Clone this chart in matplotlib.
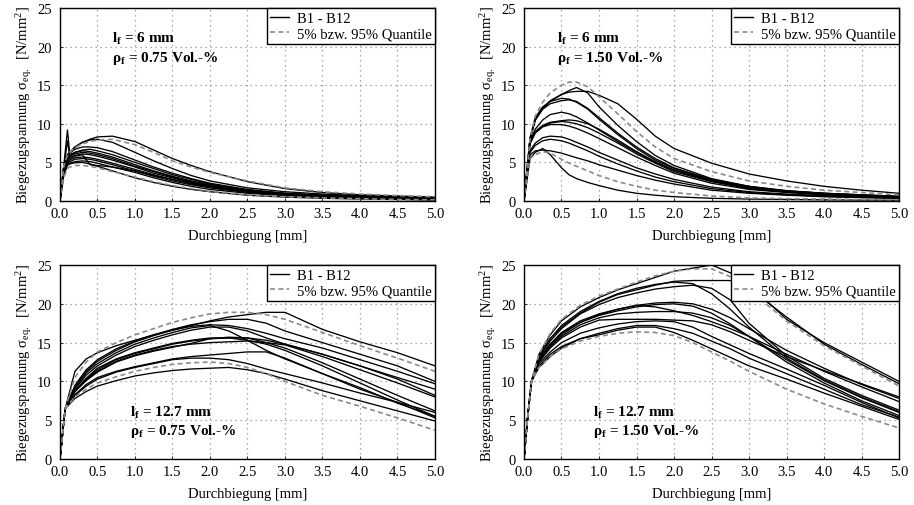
import matplotlib
matplotlib.use("Agg")
import matplotlib.pyplot as plt
from matplotlib.lines import Line2D

plt.rcParams['font.family'] = ['Liberation Serif', 'DejaVu Serif']
plt.rcParams['mathtext.fontset'] = 'custom'
plt.rcParams['mathtext.rm'] = 'Liberation Serif'
plt.rcParams['mathtext.it'] = 'Liberation Serif:italic'
plt.rcParams['mathtext.bf'] = 'Liberation Serif:bold'

# ---------------- Panel 1: lf = 6 mm, 0.75 Vol.-% ----------------
P1_X = [0, 0.05, 0.1, 0.13, 0.2, 0.3, 0.4, 0.5, 0.7, 1.0, 1.25, 1.5, 1.75, 2.0, 2.5, 3.0, 3.5, 4.0, 4.5, 5.0]
P1_B = [
    [0, 4.5, 6.0, 6.3, 7.0, 7.6, 8.0, 8.3, 8.4, 7.7, 6.6, 5.5, 4.6, 3.8, 2.5, 1.6, 1.1, 0.8, 0.65, 0.5],
    [0, 4.5, 9.2, 6.2, 7.0, 7.6, 7.9, 8.0, 7.6, 6.3, 5.2, 4.2, 3.3, 2.6, 1.7, 1.2, 0.9, 0.7, 0.55, 0.45],
    [0, 4.5, 6.0, 6.2, 6.7, 7.0, 7.0, 6.9, 6.4, 5.3, 4.4, 3.6, 2.9, 2.3, 1.5, 1.0, 0.75, 0.6, 0.45, 0.35],
    [0, 4.2, 7.8, 5.8, 6.3, 6.6, 6.7, 6.5, 6.0, 5.0, 4.2, 3.4, 2.8, 2.2, 1.4, 1.0, 0.75, 0.55, 0.45, 0.35],
    [0, 4.0, 5.6, 6.0, 6.3, 6.5, 6.4, 6.2, 5.7, 4.7, 3.9, 3.2, 2.6, 2.1, 1.35, 0.95, 0.7, 0.55, 0.4, 0.3],
    [0, 4.0, 5.5, 5.8, 6.1, 6.3, 6.2, 6.0, 5.5, 4.5, 3.8, 3.1, 2.5, 2.0, 1.3, 0.9, 0.7, 0.5, 0.4, 0.3],
    [0, 3.8, 5.3, 5.6, 5.9, 6.1, 6.0, 5.8, 5.3, 4.4, 3.6, 3.0, 2.4, 1.9, 1.25, 0.85, 0.65, 0.5, 0.4, 0.3],
    [0, 3.8, 5.2, 5.5, 5.8, 6.0, 4.7, 4.6, 4.4, 3.9, 3.3, 2.8, 2.3, 1.9, 1.2, 0.85, 0.65, 0.5, 0.4, 0.3],
    [0, 3.6, 5.0, 5.3, 5.6, 5.7, 5.6, 5.4, 4.9, 4.1, 3.4, 2.8, 2.2, 1.8, 1.15, 0.8, 0.6, 0.45, 0.35, 0.25],
    [0, 3.5, 4.9, 5.1, 5.4, 5.5, 5.4, 5.2, 4.7, 3.9, 3.2, 2.6, 2.1, 1.7, 1.1, 0.75, 0.55, 0.4, 0.3, 0.2],
    [0, 3.4, 4.7, 4.9, 5.1, 5.2, 5.1, 4.9, 4.4, 3.7, 3.0, 2.4, 1.9, 1.5, 1.0, 0.7, 0.5, 0.35, 0.3, 0.2],
    [0, 3.3, 4.6, 4.8, 4.95, 5.0, 4.8, 4.5, 3.9, 3.0, 2.4, 1.9, 1.5, 1.2, 0.75, 0.5, 0.35, 0.25, 0.2, 0.1],
]
P1_Q95 = [0, 4.5, 6.0, 6.3, 6.9, 7.4, 7.7, 7.9, 8.0, 7.3, 6.3, 5.2, 4.4, 3.7, 2.6, 1.7, 1.2, 0.9, 0.7, 0.55]
P1_Q05 = [0, 3.0, 4.2, 4.4, 4.6, 4.6, 4.5, 4.3, 3.8, 3.1, 2.5, 2.0, 1.6, 1.25, 0.8, 0.55, 0.4, 0.3, 0.2, 0.15]

# ---------------- Panel 2: lf = 6 mm, 1.50 Vol.-% ----------------
P2_X = [0, 0.08, 0.15, 0.25, 0.35, 0.5, 0.6, 0.7, 0.85, 1.0, 1.25, 1.5, 1.75, 2.0, 2.5, 3.0, 3.5, 4.0, 4.5, 5.0]
P2_B = [
    [0, 8.0, 10.5, 12.0, 13.0, 13.8, 14.1, 14.2, 14.2, 13.7, 12.6, 10.6, 8.4, 6.8, 4.9, 3.5, 2.6, 1.9, 1.4, 1.0],
    [0, 8.0, 10.5, 12.0, 12.9, 13.8, 14.3, 14.7, 14.0, 12.2, 9.8, 7.7, 5.9, 4.6, 2.9, 1.9, 1.3, 1.0, 0.8, 0.6],
    [0, 8.2, 10.8, 12.2, 12.9, 13.3, 13.2, 12.8, 11.9, 10.6, 8.6, 6.8, 5.3, 4.2, 2.7, 1.8, 1.3, 1.0, 0.75, 0.6],
    [0, 8.0, 10.5, 11.9, 12.6, 13.0, 13.1, 12.9, 12.0, 10.8, 8.8, 7.0, 5.5, 4.3, 2.8, 1.9, 1.35, 1.0, 0.8, 0.6],
    [0, 7.8, 9.3, 10.5, 11.2, 11.5, 11.3, 10.9, 10.1, 9.2, 7.7, 6.3, 5.0, 4.0, 2.6, 1.7, 1.2, 0.9, 0.7, 0.55],
    [0, 7.5, 9.0, 9.8, 10.2, 10.4, 10.5, 10.4, 10.0, 9.3, 7.9, 6.4, 5.1, 4.0, 2.6, 1.7, 1.2, 0.9, 0.7, 0.55],
    [0, 7.5, 8.9, 9.7, 10.1, 10.3, 10.2, 10.0, 9.5, 8.8, 7.5, 6.1, 4.9, 3.8, 2.5, 1.6, 1.15, 0.85, 0.65, 0.5],
    [0, 7.4, 8.8, 9.6, 9.9, 9.9, 9.7, 9.4, 8.8, 8.1, 6.9, 5.7, 4.6, 3.6, 2.3, 1.5, 1.1, 0.8, 0.6, 0.45],
    [0, 6.5, 7.5, 8.2, 8.4, 8.3, 8.0, 7.6, 7.0, 6.3, 5.3, 4.3, 3.5, 2.8, 1.8, 1.2, 0.9, 0.7, 0.5, 0.4],
    [0, 6.3, 7.2, 7.8, 8.0, 7.8, 7.5, 7.1, 6.5, 5.8, 4.8, 3.9, 3.1, 2.5, 1.6, 1.1, 0.8, 0.6, 0.45, 0.35],
    [0, 6.0, 6.5, 6.6, 6.5, 6.2, 5.9, 5.6, 5.2, 4.7, 4.0, 3.3, 2.7, 2.2, 1.4, 1.0, 0.75, 0.55, 0.45, 0.35],
    [0, 5.5, 6.3, 6.8, 6.0, 4.3, 3.4, 2.9, 2.4, 2.0, 1.4, 1.0, 0.75, 0.55, 0.35, 0.25, 0.2, 0.15, 0.12, 0.1],
]
P2_Q95 = [0, 8.0, 11.0, 12.8, 14.0, 15.0, 15.4, 15.4, 14.8, 13.5, 11.3, 9.0, 7.0, 5.5, 3.8, 2.6, 1.9, 1.4, 1.1, 0.8]
P2_Q05 = [0, 5.5, 6.0, 6.4, 6.2, 5.4, 4.9, 4.5, 3.9, 3.3, 2.5, 1.9, 1.4, 1.1, 0.65, 0.4, 0.3, 0.25, 0.2, 0.15]

# ---------------- Panel 3: lf = 12.7 mm, 0.75 Vol.-% ----------------
P3_X = [0, 0.07, 0.2, 0.35, 0.5, 0.75, 1.0, 1.25, 1.5, 1.75, 2.0, 2.25, 2.5, 2.75, 3.0, 3.5, 4.0, 4.5, 5.0]
P3_B = [
    [0, 6.5, 11.3, 12.9, 13.7, 14.6, 15.3, 16.0, 16.6, 17.2, 17.8, 18.3, 18.6, 18.9, 18.9, 16.7, 15.1, 13.7, 12.0],
    [0, 6.5, 9.5, 11.5, 12.8, 14.2, 15.2, 16.0, 16.7, 17.3, 17.7, 18.0, 18.0, 17.5, 16.5, 15.0, 13.5, 12.0, 10.0],
    [0, 6.5, 9.3, 11.3, 12.6, 14.0, 15.1, 15.9, 16.6, 17.1, 17.3, 17.2, 16.8, 16.2, 15.5, 14.3, 12.8, 11.3, 9.7],
    [0, 6.5, 9.2, 11.1, 12.3, 13.7, 14.8, 15.6, 16.3, 16.9, 17.2, 16.5, 15.3, 14.0, 12.9, 11.0, 9.2, 7.2, 5.5],
    [0, 6.5, 9.0, 10.8, 12.0, 13.4, 14.5, 15.3, 16.0, 16.6, 17.0, 17.0, 16.5, 15.6, 14.8, 13.5, 12.0, 10.5, 9.0],
    [0, 6.5, 8.8, 10.3, 11.5, 12.8, 13.6, 14.2, 14.8, 15.2, 15.5, 15.6, 15.6, 15.3, 14.8, 13.5, 12.0, 10.3, 8.2],
    [0, 6.5, 8.8, 10.4, 11.7, 12.9, 13.7, 14.3, 14.9, 15.3, 15.6, 15.6, 15.3, 14.8, 14.0, 12.0, 9.8, 7.6, 5.5],
    [0, 6.5, 8.7, 10.2, 11.3, 12.6, 13.4, 14.0, 14.5, 14.8, 15.0, 15.1, 15.2, 15.0, 14.7, 13.2, 11.5, 9.8, 8.0],
    [0, 6.5, 8.7, 10.1, 11.2, 12.5, 13.3, 13.9, 14.4, 14.9, 15.5, 15.7, 15.6, 15.0, 14.3, 12.4, 10.3, 8.2, 6.2],
    [0, 6.5, 8.3, 9.6, 10.5, 11.3, 11.9, 12.4, 12.9, 13.2, 13.4, 13.6, 13.8, 13.8, 13.0, 11.0, 9.0, 7.3, 5.3],
    [0, 6.5, 8.2, 9.4, 10.3, 11.2, 11.8, 12.3, 12.8, 13.0, 13.0, 12.8, 12.3, 11.6, 11.0, 9.8, 8.5, 7.3, 6.0],
    [0, 6.5, 7.8, 8.7, 9.4, 10.1, 10.7, 11.1, 11.4, 11.6, 11.7, 11.8, 11.5, 11.0, 10.3, 8.8, 7.5, 6.2, 4.9],
]
P3_Q95 = [0, 6.5, 10.5, 12.5, 13.8, 15.0, 16.0, 16.8, 17.6, 18.2, 18.7, 18.9, 18.9, 18.6, 18.0, 16.3, 14.6, 13.0, 11.3]
P3_Q05 = [0, 6.5, 8.0, 9.0, 9.8, 10.6, 11.3, 11.8, 12.2, 12.4, 12.5, 12.3, 11.8, 11.0, 10.0, 8.2, 6.8, 5.3, 3.7]

# ---------------- Panel 4: lf = 12.7 mm, 1.50 Vol.-% ----------------
P4_X = [0, 0.05, 0.1, 0.2, 0.35, 0.5, 0.75, 1.0, 1.25, 1.5, 1.75, 2.0, 2.25, 2.5, 2.75, 3.0, 3.5, 4.0, 4.5, 5.0]
P4_B = [
    [0, 5.5, 10.0, 13.5, 16.0, 17.8, 19.6, 20.8, 21.8, 22.6, 23.4, 24.2, 24.6, 25.0, 24.0, 22.5, 18.0, 15.0, 12.5, 10.0],
    [0, 5.5, 10.0, 13.3, 15.5, 17.0, 18.8, 20.2, 21.2, 21.8, 22.4, 22.9, 23.0, 23.0, 23.0, 22.0, 18.3, 14.8, 12.2, 9.7],
    [0, 5.5, 10.0, 13.2, 15.5, 17.2, 19.0, 20.3, 21.3, 22.0, 22.5, 22.8, 22.6, 21.3, 19.3, 17.0, 13.0, 10.2, 8.0, 6.1],
    [0, 5.5, 10.0, 13.0, 15.2, 16.8, 18.7, 19.9, 20.8, 21.4, 21.9, 22.2, 22.4, 22.0, 20.5, 17.5, 13.3, 10.4, 8.2, 6.3],
    [0, 5.5, 10.0, 12.8, 14.8, 16.3, 17.8, 18.7, 19.3, 19.8, 20.1, 20.2, 20.0, 19.3, 18.2, 16.8, 14.0, 11.7, 9.6, 7.8],
    [0, 5.5, 10.0, 12.8, 14.8, 16.2, 17.6, 18.5, 19.1, 19.6, 19.9, 20.0, 19.7, 18.8, 17.4, 15.8, 12.5, 9.8, 7.5, 5.6],
    [0, 5.5, 10.0, 12.7, 14.6, 16.0, 17.6, 18.6, 19.3, 19.8, 19.6, 19.1, 18.5, 17.7, 16.8, 15.8, 13.5, 11.3, 9.3, 7.4],
    [0, 5.5, 10.0, 12.6, 14.5, 15.8, 17.3, 18.2, 18.7, 18.9, 19.0, 19.0, 18.8, 18.2, 17.2, 15.8, 12.8, 10.1, 7.9, 6.0],
    [0, 5.5, 10.0, 12.5, 14.3, 15.6, 17.0, 17.9, 18.0, 18.0, 18.0, 17.9, 17.8, 17.3, 16.4, 15.3, 13.2, 11.4, 9.7, 8.0],
    [0, 5.5, 10.0, 12.3, 13.8, 15.0, 16.2, 16.9, 17.4, 17.7, 17.8, 17.7, 17.0, 15.8, 14.7, 13.6, 11.6, 9.5, 7.3, 5.3],
    [0, 5.5, 10.0, 12.0, 13.5, 14.5, 15.5, 16.2, 16.8, 17.2, 17.2, 16.8, 16.2, 15.2, 14.2, 13.0, 11.0, 9.0, 7.0, 5.4],
    [0, 5.5, 10.0, 11.8, 13.2, 14.3, 15.5, 16.0, 16.6, 17.0, 17.0, 16.3, 15.3, 14.2, 13.1, 12.0, 10.3, 8.5, 6.8, 5.1],
]
P4_Q95 = [0, 5.5, 10.0, 13.5, 16.2, 18.0, 19.8, 21.0, 21.9, 22.8, 23.6, 24.2, 24.5, 24.5, 23.5, 21.8, 17.8, 14.6, 12.0, 9.4]
P4_Q05 = [0, 5.5, 10.0, 11.8, 13.2, 14.2, 15.2, 15.8, 16.2, 16.4, 16.3, 15.9, 15.0, 13.8, 12.6, 11.3, 9.0, 7.1, 5.5, 4.0]

ANNOT_LF = ['6 mm', '6 mm', '12.7 mm', '12.7 mm']
ANNOT_RHO = ['0.75 Vol.-%', '1.50 Vol.-%', '0.75 Vol.-%', '1.50 Vol.-%']
X_TICKS = [0.0, 0.5, 1.0, 1.5, 2.0, 2.5, 3.0, 3.5, 4.0, 4.5, 5.0]
Y_TICKS = [0, 5, 10, 15, 20, 25]
LEG_SOLID = 'B1 - B12'
LEG_DASH = '5% bzw. 95% Quantile'
XLABEL = 'Durchbiegung [mm]'
YLABEL = r'Biegezugspannung σ$_{\mathrm{eq.}}$  [N/mm$^{2}$]'

panels = [
    (P1_X, P1_B, P1_Q95, P1_Q05),
    (P2_X, P2_B, P2_Q95, P2_Q05),
    (P3_X, P3_B, P3_Q95, P3_Q05),
    (P4_X, P4_B, P4_Q95, P4_Q05),
]
# axes rectangles [left, bottom, width, height] in figure fraction
rects = [
    [0.0656, 0.6008, 0.4103, 0.3814],
    [0.5733, 0.6008, 0.4103, 0.3814],
    [0.0656, 0.0909, 0.4103, 0.3834],
    [0.5733, 0.0909, 0.4103, 0.3834],
]
annot_pos = [(0.69, 20.6, 18.1), (0.44, 20.6, 18.1), (0.93, 5.6, 3.2), (0.92, 5.6, 3.2)]

fig = plt.figure(figsize=(9.14, 5.06), dpi=100)
FS = 10.5
gray = '#8a8a8a'

for i, (px, curves, q95, q05) in enumerate(panels):
    ax = fig.add_axes(rects[i])
    for c in curves:
        ax.plot(px, c, color='black', lw=0.95, solid_joinstyle='round')
    ax.plot(px, q95, color=gray, lw=1.2, ls=(0, (3, 2)))
    ax.plot(px, q05, color=gray, lw=1.2, ls=(0, (3, 2)))
    ax.set_xlim(0, 5)
    ax.set_ylim(0, 25)
    ax.set_xticks(X_TICKS)
    ax.set_xticklabels([f'{t:.1f}' for t in X_TICKS], fontsize=FS)
    ax.set_yticks(Y_TICKS)
    ax.set_yticklabels([str(t) for t in Y_TICKS], fontsize=FS)
    ax.tick_params(direction='in', length=2, width=0.6)
    ax.tick_params(axis='x', pad=4)
    ax.tick_params(axis='y', pad=6)
    ax.grid(True, color='#909090', ls=(0, (1, 3)), lw=0.9)
    ax.set_axisbelow(True)
    for s in ax.spines.values():
        s.set_linewidth(1.0)
    ax.set_xlabel(XLABEL, fontsize=FS, labelpad=7)
    ax.set_ylabel(YLABEL, fontsize=FS, labelpad=2)
    handles = [Line2D([], [], color='black', lw=1.0),
               Line2D([], [], color=gray, lw=1.2, ls=(0, (3, 2)))]
    leg = ax.legend(handles, [LEG_SOLID, LEG_DASH], loc='upper right',
                    fontsize=FS, frameon=True, fancybox=False, framealpha=1,
                    edgecolor='black', borderaxespad=0.0, handlelength=1.3,
                    handletextpad=0.5, borderpad=0.25, labelspacing=0.15)
    leg.get_frame().set_linewidth(1.0)
    ax_x, y1, y2 = annot_pos[i]
    ax.text(ax_x, y1, r'l$_{\mathbf{f}}$ = ' + ANNOT_LF[i], fontsize=11,
            fontweight='bold', ha='left', va='baseline')
    ax.text(ax_x, y2, r'ρ$_{\mathbf{f}}$ = ' + ANNOT_RHO[i], fontsize=11,
            fontweight='bold', ha='left', va='baseline')

fig.savefig('out.png', dpi=100)
